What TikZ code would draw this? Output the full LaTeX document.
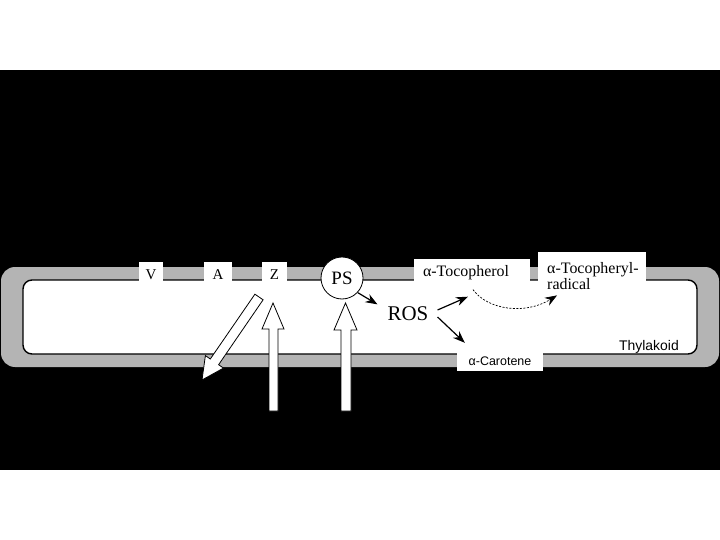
\documentclass[tikz,border=0pt]{standalone}
\usepackage{fontspec}
\setmainfont{Liberation Serif}
\setsansfont{Liberation Sans}
\usetikzlibrary{arrows.meta}
\definecolor{thyl}{RGB}{180,180,180}
\begin{document}
\begin{tikzpicture}[x=1bp,y=-1bp,
  vaz/.style={fill=white, inner xsep=0pt, inner ysep=1.5bp, text height=16bp, text depth=0bp, minimum height=19bp, font=\fontsize{15}{17}\selectfont},
  tbox/.style={fill=white, font=\fontsize{16}{16}\selectfont},
  arr/.style={line width=1.2bp, -{Stealth[length=12bp,width=9bp]}},
  blockarrow/.style={fill=white, draw=black, line width=0.8bp, line join=miter},
]
\useasboundingbox (0,0) rectangle (720,540);
\fill[white] (0,0) rectangle (720,540);
\fill[black] (0,70) rectangle (720,470);
% thylakoid membrane
\fill[thyl, rounded corners=14bp] (1,267) rectangle (719,367);
\draw[fill=white, line width=1.4bp, rounded corners=9bp] (23,280) rectangle (697,354);
% V A Z labels
\node[vaz, minimum width=24bp] (V) at (151,271.5) {V};
\node[vaz, minimum width=28bp] (A) at (218,271.5) {A};
\node[vaz, minimum width=25bp] (Z) at (274.5,271.5) {Z};
% PS
\node[circle, draw, fill=white, line width=0.8bp, minimum size=42bp, inner sep=0pt, font=\fontsize{19}{21}\selectfont] (PS) at (342,278) {PS};
% ROS
\node[inner sep=0pt, font=\fontsize{21}{23}\selectfont] (ROS) at (408,314) {ROS};
% boxes
\node[tbox, text width=98bp, inner xsep=9bp, align=left, minimum height=26bp] (toc) at (472,272.5) {α-Tocopherol};
\node[tbox, text width=90bp, inner xsep=9bp, align=left, minimum height=47bp, anchor=north west] (rad) at (538,252) {\mbox{α-Tocopheryl-}\\radical};
\node[fill=white, minimum width=86bp, minimum height=20bp, inner sep=0pt, font=\sffamily\fontsize{12.5}{14}\selectfont] (car) at (500,361) {α-Carotene};
\node[inner sep=0pt, anchor=base east, font=\sffamily\fontsize{14}{16}\selectfont] (thy) at (679,350) {Thylakoid};
% connectors
\draw[arr] (PS.-43) -- ([xshift=-10bp,yshift=2.4bp]ROS.north west);
\draw[arr] ([shift={(9,-4)}]ROS.east) -- ([shift={(-4,11)}]toc.south);
\draw[arr] ([shift={(9,3)}]ROS.east) -- ([shift={(8,-8)}]car.north west);
\draw[line width=0.7bp, dash pattern=on 2bp off 1.5bp, -{Stealth[length=12bp,width=9bp]}]
  ([shift={(1,4)}]toc.south) .. controls (488,310) and (525,315) .. ([shift={(19,-4)}]rad.south west);
% block arrows
\draw[blockarrow] (263.1,299.8) -- (218.6,364.7) -- (223.5,368.1) -- (202,380) -- (205.4,355.6) -- (210.3,359.0) -- (254.9,294.2) -- cycle;
\draw[blockarrow] (269,411) -- (269,329) -- (262,329) -- (273,303) -- (284,329) -- (278,329) -- (278,411) -- cycle;
\draw[blockarrow] (341,411) -- (341,330) -- (334,330) -- (345.5,303) -- (357,330) -- (351,330) -- (351,411) -- cycle;
\end{tikzpicture}
\end{document}
